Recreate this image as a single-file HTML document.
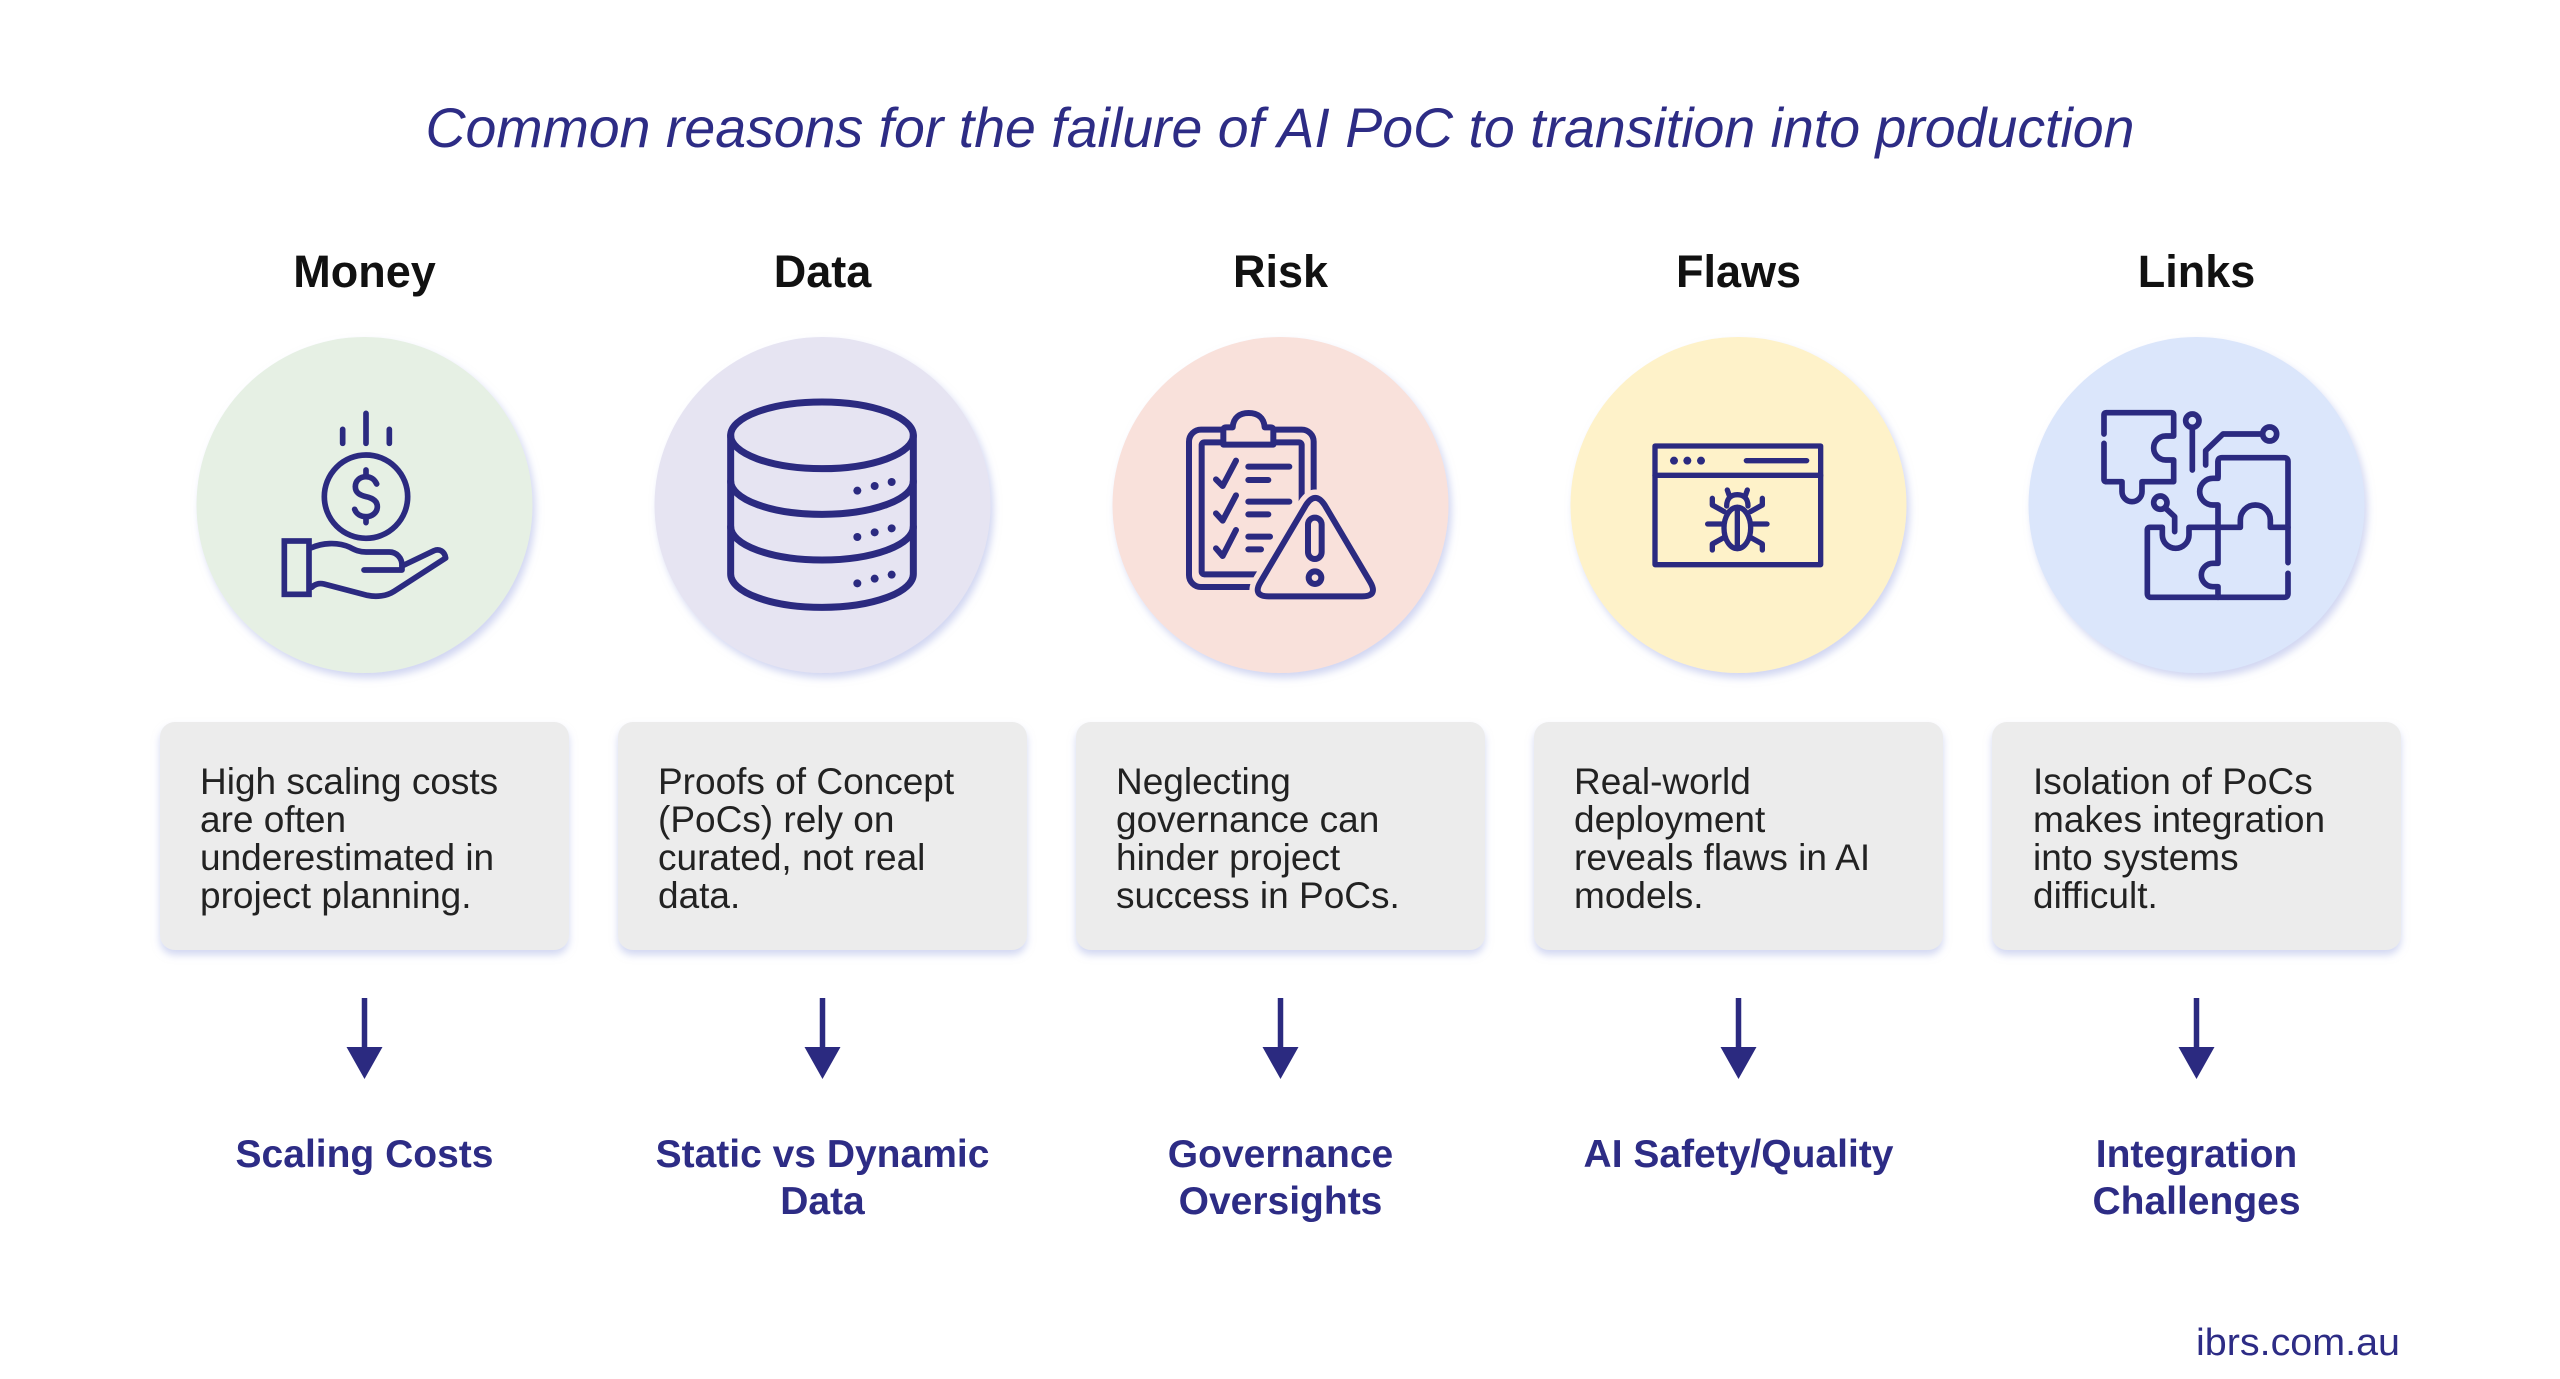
<!DOCTYPE html>
<html><head><meta charset="utf-8"><style>
html,body{margin:0;padding:0;background:#fff;}
svg{display:block;}
text{font-family:"Liberation Sans",sans-serif;}
</style></head><body>
<svg width="2560" height="1379" viewBox="0 0 2560 1379" xmlns="http://www.w3.org/2000/svg">
<defs>
<filter id="cs" x="-20%" y="-20%" width="140%" height="140%">
<feDropShadow dx="3" dy="5" stdDeviation="4" flood-color="#aab4e6" flood-opacity="0.55"/>
</filter>
<filter id="bs" x="-10%" y="-10%" width="120%" height="130%">
<feDropShadow dx="0" dy="5" stdDeviation="4" flood-color="#b4bde8" flood-opacity="0.6"/>
</filter>
</defs>
<rect width="2560" height="1379" fill="#fff"/>

<text x="1280" y="147" text-anchor="middle" font-size="56" font-style="italic" fill="#2d2c85" textLength="1709" lengthAdjust="spacingAndGlyphs">Common reasons for the failure of AI PoC to transition into production</text>

<g font-size="45" font-weight="bold" fill="#111" text-anchor="middle">
<text x="364.5" y="287">Money</text>
<text x="822.5" y="287">Data</text>
<text x="1280.5" y="287">Risk</text>
<text x="1738.5" y="287">Flaws</text>
<text x="2196.5" y="287">Links</text>
</g>

<g filter="url(#cs)">
<circle cx="364.5" cy="505" r="168" fill="#e6f0e4"/>
<circle cx="822.5" cy="505" r="168" fill="#e6e4f2"/>
<circle cx="1280.5" cy="505" r="168" fill="#f9e1db"/>
<circle cx="1738.5" cy="505" r="168" fill="#fef2c9"/>
<circle cx="2196.5" cy="505" r="168" fill="#dbe6fb"/>
</g>

<!-- Money icon -->
<g transform="translate(190 330) scale(0.33333)" fill="none" stroke="#2b2a80" stroke-width="17" stroke-linecap="round" stroke-linejoin="round">
<path d="M458 298V340M528 250V340M598 298V340"/>
<circle cx="528" cy="500" r="125"/>
<path d="M528 420V440M528 560V578"/>
<path d="M560 462C554 448 542 440 528 440C510 440 496 452 496 470C496 490 512 496 528 500C546 504 562 512 562 530C562 548 546 560 528 560C512 560 499 552 494 538"/>
<rect x="283" y="633" width="74" height="160" stroke-linejoin="miter"/>
<path d="M365 653C395 640 440 634 480 652C495 660 508 666 528 666L598 666C620 666 636 684 636 706L636 720L522 720"/>
<path d="M636 708L732 662C748 655 764 664 767 684L612 784C590 798 560 802 532 796L402 762C386 758 372 764 365 772"/>
</g>

<!-- Data icon -->
<g transform="translate(648 330) scale(0.33333)" fill="none" stroke="#2b2a80" stroke-width="21" stroke-linecap="round" stroke-linejoin="round">
<ellipse cx="522" cy="316" rx="274" ry="100"/>
<path d="M248 316V732A274 100 0 0 0 796 732V316"/>
<path d="M248 453A274 100 0 0 0 796 453"/>
<path d="M248 590A274 100 0 0 0 796 590"/>
<g fill="#2b2a80" stroke="none">
<circle cx="628" cy="482" r="12"/><circle cx="680" cy="468" r="12"/><circle cx="731" cy="456" r="12"/>
<circle cx="628" cy="621" r="12"/><circle cx="680" cy="607" r="12"/><circle cx="731" cy="595" r="12"/>
<circle cx="628" cy="760" r="12"/><circle cx="680" cy="746" r="12"/><circle cx="731" cy="734" r="12"/>
</g>
</g>

<!-- Risk icon -->
<g transform="translate(1106 330) scale(0.33333)" fill="none" stroke="#2b2a80" stroke-width="18" stroke-linecap="round" stroke-linejoin="round">
<rect x="249" y="299" width="374" height="472" rx="36"/>
<rect x="287" y="337" width="300" height="396" rx="8"/>
<path d="M352 344V300Q352 292 360 292H380C382 262 402 249 428 249C454 249 474 262 476 292H494Q502 292 502 300V344Z" fill="#f9e1db"/>
<path d="M330 448L350 468L390 392M330 550L350 572L390 496M330 655L350 678L390 600"/>
<path d="M427 410H550M427 450H487M427 515H550M427 553H487M427 620H492M427 658H465"/>
<path d="M600 525Q628 482 656 525L792 755Q818 799 768 799L488 799Q438 799 464 755Z" stroke="#f9e1db" stroke-width="50" fill="#f9e1db"/>
<path d="M600 525Q628 482 656 525L792 755Q818 799 768 799L488 799Q438 799 464 755Z"/>
<rect x="606" y="563" width="41" height="124" rx="20.5"/>
<circle cx="627" cy="743" r="19"/>
</g>

<!-- Flaws icon -->
<g transform="translate(1565 330) scale(0.33333)" fill="none" stroke="#2b2a80" stroke-width="16" stroke-linecap="round" stroke-linejoin="round">
<rect x="270" y="348" width="497" height="356"/>
<path d="M270 436H767"/>
<g fill="#2b2a80" stroke="none"><circle cx="327" cy="392" r="12"/><circle cx="367" cy="392" r="12"/><circle cx="408" cy="392" r="12"/></g>
<path d="M544 392H725"/>
<ellipse cx="517" cy="594" rx="40" ry="62"/>
<path d="M517 532V654"/>
<path d="M485 528C485 506 498 494 517 494C536 494 549 506 549 528"/>
<path d="M494 500L487 480M540 500L547 480"/>
<path d="M478 545L442 525V505M472 582H428M478 622L442 642V660"/>
<path d="M556 545L592 525V505M562 582H606M556 622L592 642V660"/>
</g>

<!-- Links icon -->
<g transform="translate(2023 330) scale(0.33333)" fill="none" stroke="#2b2a80" stroke-width="17" stroke-linecap="round" stroke-linejoin="round">
<path d="M243 312V255Q243 248 250 248H445Q452 248 452 255V318H428A36 36 0 0 0 428 390H452V455H357V485A30 30 0 0 1 297 485V455H250Q243 455 243 448V340"/>
<circle cx="508" cy="272" r="20"/>
<path d="M508 292V420"/>
<path d="M548 405V362L600 312H718"/>
<circle cx="740" cy="312" r="21"/>
<circle cx="412" cy="518" r="20"/>
<path d="M426 533L455 560V605"/>
<path d="M585 440V395Q585 383 597 383H783Q795 383 795 395V698"/>
<path d="M795 730V790Q795 802 783 802H385Q373 802 373 790V600Q373 592 381 592H418V615A40 40 0 0 0 498 615V592H585"/>
<path d="M585 395V445H570A40 40 0 0 0 570 525H585V700H570A35 35 0 0 0 570 770H585V802"/>
<path d="M585 592H652V570A45 45 0 0 1 742 570V592H795"/>
</g>

<!-- Boxes -->
<g filter="url(#bs)" fill="#ececec">
<rect x="160" y="722" width="409" height="228" rx="15"/>
<rect x="618" y="722" width="409" height="228" rx="15"/>
<rect x="1076" y="722" width="409" height="228" rx="15"/>
<rect x="1534" y="722" width="409" height="228" rx="15"/>
<rect x="1992" y="722" width="409" height="228" rx="15"/>
</g>

<g font-size="37" fill="#222">
<text x="200" y="794">High scaling costs</text>
<text x="200" y="832">are often</text>
<text x="200" y="870">underestimated in</text>
<text x="200" y="908">project planning.</text>

<text x="658" y="794">Proofs of Concept</text>
<text x="658" y="832">(PoCs) rely on</text>
<text x="658" y="870">curated, not real</text>
<text x="658" y="908">data.</text>

<text x="1116" y="794">Neglecting</text>
<text x="1116" y="832">governance can</text>
<text x="1116" y="870">hinder project</text>
<text x="1116" y="908">success in PoCs.</text>

<text x="1574" y="794">Real-world</text>
<text x="1574" y="832">deployment</text>
<text x="1574" y="870">reveals flaws in AI</text>
<text x="1574" y="908">models.</text>

<text x="2033" y="794">Isolation of PoCs</text>
<text x="2033" y="832">makes integration</text>
<text x="2033" y="870">into systems</text>
<text x="2033" y="908">difficult.</text>
</g>

<!-- Arrows -->
<g fill="#2b2a80" stroke="#2b2a80">
<g transform="translate(364.5 0)"><path d="M0 998V1052" stroke-width="5.5" fill="none"/><path d="M-18 1047H18L0 1079Z" stroke="none"/></g>
<g transform="translate(822.5 0)"><path d="M0 998V1052" stroke-width="5.5" fill="none"/><path d="M-18 1047H18L0 1079Z" stroke="none"/></g>
<g transform="translate(1280.5 0)"><path d="M0 998V1052" stroke-width="5.5" fill="none"/><path d="M-18 1047H18L0 1079Z" stroke="none"/></g>
<g transform="translate(1738.5 0)"><path d="M0 998V1052" stroke-width="5.5" fill="none"/><path d="M-18 1047H18L0 1079Z" stroke="none"/></g>
<g transform="translate(2196.5 0)"><path d="M0 998V1052" stroke-width="5.5" fill="none"/><path d="M-18 1047H18L0 1079Z" stroke="none"/></g>
</g>

<g font-size="39" font-weight="bold" fill="#2d2c85" text-anchor="middle">
<text x="364.5" y="1167">Scaling Costs</text>
<text x="822.5" y="1167">Static vs Dynamic</text>
<text x="822.5" y="1214">Data</text>
<text x="1280.5" y="1167">Governance</text>
<text x="1280.5" y="1214">Oversights</text>
<text x="1738.5" y="1167">AI Safety/Quality</text>
<text x="2196.5" y="1167">Integration</text>
<text x="2196.5" y="1214">Challenges</text>
</g>

<text x="2400" y="1355" text-anchor="end" font-size="38" fill="#2d2c85" textLength="204" lengthAdjust="spacingAndGlyphs">ibrs.com.au</text>
</svg>
</body></html>
